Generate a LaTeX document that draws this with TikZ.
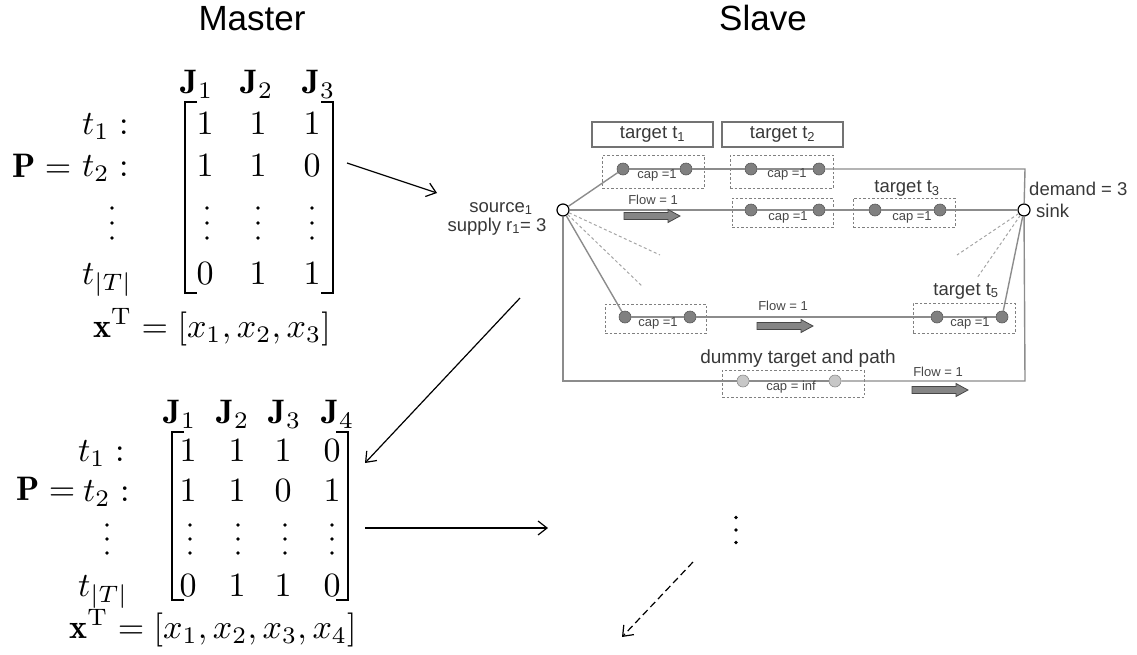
\documentclass[tikz,border=0pt]{standalone}
\usepackage{graphicx}
\usepackage{fontspec}
\newfontfamily\arialf{Liberation Sans}
\usetikzlibrary{arrows.meta}
\newcommand\mscale[1]{\scalebox{3.4}{$#1$}}
\tikzset{
  fatarr/.pic={\draw[line width=0.8pt, draw=black!72, fill=black!48, line join=miter]
     (0,-3.5) -- (44,-3.5) -- (44,-6.5) -- (56,0) -- (44,6.5) -- (44,3.5) -- (0,3.5) -- cycle;},
  vdt/.pic={\fill (0,-#1) circle (1.9pt) (0,0) circle (1.9pt) (0,#1) circle (1.9pt);}
}
\begin{document}
\begin{tikzpicture}[x=1pt,y=-1pt,
  mth/.style={inner sep=0pt, anchor=base},
  brk/.style={line width=1.8pt, line join=miter},
  conn/.style={line width=1.2pt, -{Straight Barb[length=9pt,width=14pt,line width=1.2pt]}},
  lab/.style={font=\arialf\fontsize{18.5}{21}\selectfont, text=black!78, inner sep=0pt},
  small/.style={font=\arialf\fontsize{13}{15}\selectfont, text=black!72, inner sep=0pt, anchor=base},
  flowl/.style={font=\arialf\fontsize{13}{15}\selectfont, text=black!72, inner sep=0pt, anchor=base},
  net/.style={draw=black!45, line width=1.4pt},
  fan/.style={draw=black!35, line width=1pt, dash pattern=on 3pt off 2.5pt},
  dbox/.style={draw=black!50, line width=0.9pt, dash pattern=on 2.5pt off 2pt, inner sep=0pt},
  tbox/.style={draw=black!55, line width=1.5pt, minimum width=121pt, minimum height=25pt},
  tc/.style={circle, draw=black!65, fill=black!50, minimum size=12pt, inner sep=0pt, line width=0.6pt},
  dc/.style={tc, fill=black!22, draw=black!45},
  sc/.style={circle, draw=black, fill=white, minimum size=12pt, inner sep=0pt, line width=1.2pt},
  title/.style={font=\arialf\fontsize{35}{40}\selectfont, inner sep=0pt, anchor=base}
]
\path[use as bounding box] (0,0) rectangle (1137,654);

% titles
\node[title] (master) at (252,30) {Master};
\node[title] (slave) at (763,30) {Slave};

% ---------- matrix 1 ----------
\node[mth] (m1J1) at (197,93) {\mscale{\mathbf{J}_1}};
\node[mth] (m1J2) at (257,93) {\mscale{\mathbf{J}_2}};
\node[mth] (m1J3) at (319,93) {\mscale{\mathbf{J}_3}};
\node[mth, anchor=base west] (m1P) at (12,177) {\mscale{\mathbf{P} =}};
\node[mth, anchor=base west] (m1t1) at (82,134) {\mscale{t_1 :}};
\node[mth, anchor=base west] (m1t2) at (82,176) {\mscale{t_2 :}};
\node[mth, anchor=base west] (m1tT) at (82,284) {\mscale{t_{|T|}}};
\pic at (112,223) {vdt=15};
\node[mth] (m1a11) at (205,134) {\mscale{1}};
\node[mth] (m1a12) at (258,134) {\mscale{1}};
\node[mth] (m1a13) at (312,134) {\mscale{1}};
\node[mth] (m1a21) at (205,176) {\mscale{1}};
\node[mth] (m1a22) at (258,176) {\mscale{1}};
\node[mth] (m1a23) at (312,176) {\mscale{0}};
\pic at (207,223) {vdt=15};
\pic at (258,223) {vdt=15};
\pic at (312,223) {vdt=15};
\node[mth] (m1a41) at (205,284) {\mscale{0}};
\node[mth] (m1a42) at (258,284) {\mscale{1}};
\node[mth] (m1a43) at (312,284) {\mscale{1}};
\draw[brk] (197,102) -- (185,102) -- (185,293) -- (197,293);
\draw[brk] (321,102) -- (333,102) -- (333,293) -- (321,293);
\node[mth] (m1x) at (212,337) {\mscale{\mathbf{x}^{\mathrm{T}} = [x_1, x_2, x_3]}};

% ---------- matrix 2 ----------
\node[mth] (m2J1) at (180,423) {\mscale{\mathbf{J}_1}};
\node[mth] (m2J2) at (233,423) {\mscale{\mathbf{J}_2}};
\node[mth] (m2J3) at (285,423) {\mscale{\mathbf{J}_3}};
\node[mth] (m2J4) at (338,423) {\mscale{\mathbf{J}_4}};
\node[mth, anchor=base west] (m2P) at (16,500) {\mscale{\mathbf{P} =}};
\node[mth, anchor=base west] (m2t1) at (78,461) {\mscale{t_1 :}};
\node[mth, anchor=base west] (m2t2) at (83,501) {\mscale{t_2 :}};
\node[mth, anchor=base west] (m2tT) at (78,596) {\mscale{t_{|T|}}};
\pic at (107,539) {vdt=14};
\node[mth] (m2a11) at (188,461) {\mscale{1}};
\node[mth] (m2a12) at (237,461) {\mscale{1}};
\node[mth] (m2a13) at (283,461) {\mscale{1}};
\node[mth] (m2a14) at (332,461) {\mscale{0}};
\node[mth] (m2a21) at (188,501) {\mscale{1}};
\node[mth] (m2a22) at (237,501) {\mscale{1}};
\node[mth] (m2a23) at (283,501) {\mscale{0}};
\node[mth] (m2a24) at (332,501) {\mscale{1}};
\pic at (190,539) {vdt=14};
\pic at (238,539) {vdt=14};
\pic at (285,539) {vdt=14};
\pic at (332,539) {vdt=14};
\node[mth] (m2a41) at (188,596) {\mscale{0}};
\node[mth] (m2a42) at (237,596) {\mscale{1}};
\node[mth] (m2a43) at (283,596) {\mscale{1}};
\node[mth] (m2a44) at (332,596) {\mscale{0}};
\draw[brk] (184,432) -- (172,432) -- (172,600) -- (184,600);
\draw[brk] (336,432) -- (348,432) -- (348,600) -- (336,600);
\node[mth] (m2x) at (213,638) {\mscale{\mathbf{x}^{\mathrm{T}} = [x_1, x_2, x_3, x_4]}};

% ---------- arrows between parts ----------
\coordinate (a1s) at (347,163); \coordinate (a1e) at (437,193);
\coordinate (a2s) at (520,298); \coordinate (a2e) at (365,463);
\coordinate (a3s) at (365,528); \coordinate (a3e) at (548,528);
\coordinate (a4s) at (693,562); \coordinate (a4e) at (622,637);
\draw[conn] (a1s) -- (a1e);
\draw[conn] (a2s) -- (a2e);
\draw[conn] (a3s) -- (a3e);
\draw[conn, dash pattern=on 7pt off 4pt] (a4s) -- (a4e);
\pic at (736,530) {vdt=12.5};

% ---------- slave network ----------
\node[tbox, lab] (tt1) at (652.5,134.5) {target t\textsubscript{1}};
\node[tbox, lab] (tt2) at (782.5,134.5) {target t\textsubscript{2}};

\node[dbox, minimum width=102pt, minimum height=33pt] (b1) at (653,171.5) {};
\node[dbox, minimum width=103pt, minimum height=33pt] (b2) at (781.5,171.5) {};
\node[dbox, minimum width=101pt, minimum height=29pt] (b3) at (782.5,212.5) {};
\node[dbox, minimum width=102pt, minimum height=29pt] (b4) at (904,212.5) {};
\node[dbox, minimum width=101pt, minimum height=29pt] (b5) at (655.5,318.5) {};
\node[dbox, minimum width=102pt, minimum height=30pt] (b6) at (964,318) {};
\node[dbox, minimum width=142pt, minimum height=27pt] (b7) at (793,383.5) {};

\node[sc] (src) at (563,210) {};
\node[sc] (snk) at (1024,210) {};
\node[tc] (c1a) at (623,169) {};
\node[tc] (c1b) at (686,169) {};
\node[tc] (c2a) at (751,169) {};
\node[tc] (c2b) at (819,169) {};
\node[tc] (c3a) at (751,210) {};
\node[tc] (c3b) at (819,210) {};
\node[tc] (c4a) at (875,210) {};
\node[tc] (c4b) at (940,210) {};
\node[tc] (c5a) at (625,317) {};
\node[tc] (c5b) at (690,317) {};
\node[tc] (c6a) at (937,317) {};
\node[tc] (c6b) at (1002,317) {};
\node[dc] (d1) at (743,381) {};
\node[dc] (d2) at (835,381) {};

\coordinate (tr) at (1025,169);
\coordinate (bl) at (563,381);
\coordinate (br) at (1025,381);

\path[net] (src) -- (c1a); \path[net] (c1a) -- (c1b); \path[net] (c1b) -- (c2a);
\path[net] (c2a) -- (c2b); \path[net] (c2b) -- (tr) -- (snk);
\path[net] (src) -- (c3a); \path[net] (c3a) -- (c3b); \path[net] (c3b) -- (c4a);
\path[net] (c4a) -- (c4b); \path[net] (c4b) -- (snk);
\path[net] (src) -- (c5a); \path[net] (c5a) -- (c5b); \path[net] (c5b) -- (c6a);
\path[net] (c6a) -- (c6b); \path[net] (c6b) -- (snk);
\path[net] (src) -- (bl) -- (d1); \path[net] (d1) -- (d2); \path[net] (d2) -- (br) -- (snk);

\coordinate (f1) at (660,255); \coordinate (f2) at (643,287);
\coordinate (f3) at (957,255); \coordinate (f4) at (977,278);
\path[fan] (src) -- (f1); \path[fan] (src) -- (f2);
\path[fan] (snk) -- (f3); \path[fan] (snk) -- (f4);

\node[small] (k1) at (657,178) {cap =1};
\node[small] (k2) at (787,177) {cap =1};
\node[small] (k3) at (788,220) {cap =1};
\node[small] (k4) at (912,220) {cap =1};
\node[small] (k5) at (658,326) {cap =1};
\node[small] (k6) at (970,326) {cap =1};
\node[small] (k7) at (791,390) {cap = inf};

\node[flowl] (fl1) at (653,204) {Flow = 1};
\node[flowl] (fl2) at (783,310) {Flow = 1};
\node[flowl] (fl3) at (938,376) {Flow = 1};
\pic at (624,216) {fatarr};
\pic at (757,326) {fatarr};
\pic at (912,390) {fatarr};

\node[lab, anchor=base] (tt3) at (907,192) {target t\textsubscript{3}};
\node[lab, anchor=base] (tt5) at (966,295) {target t\textsubscript{5}};
\node[lab, anchor=base] (srcl1) at (501,212) {source\textsubscript{1}};
\node[lab, anchor=base] (srcl2) at (497,231) {supply r\textsubscript{1}= 3};
\node[lab, anchor=base west] (dem) at (1029,195) {demand = 3};
\node[lab, anchor=base west] (sinkl) at (1036,217) {sink};
\node[lab, anchor=base, font=\arialf\fontsize{19}{22}\selectfont] (dum) at (798,363) {dummy target and path};
\end{tikzpicture}
\end{document}
